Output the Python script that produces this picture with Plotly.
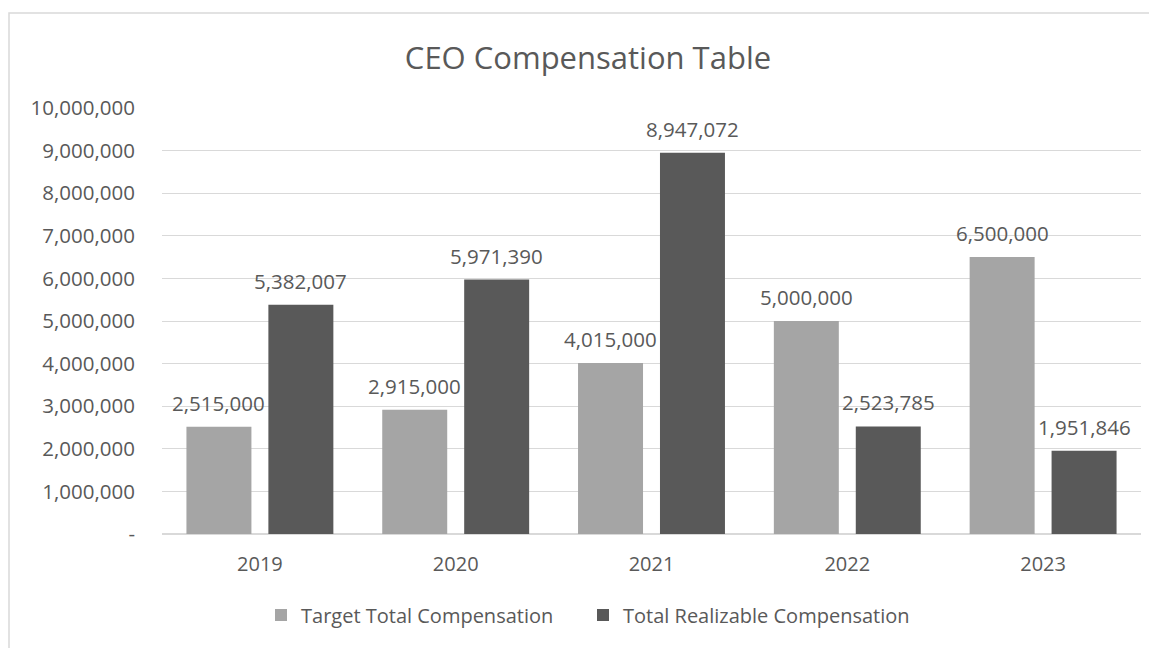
import plotly.graph_objects as go

years = ["2019", "2020", "2021", "2022", "2023"]
target_total = [2515000, 2915000, 4015000, 5000000, 6500000]
total_realizable = [5382007, 5971390, 8947072, 2523785, 1951846]
series_names = ["Target Total Compensation", "Total Realizable Compensation"]
y_tick_vals = [0, 1000000, 2000000, 3000000, 4000000, 5000000,
               6000000, 7000000, 8000000, 9000000, 10000000]
y_tick_text = ["-", "1,000,000", "2,000,000", "3,000,000", "4,000,000", "5,000,000",
               "6,000,000", "7,000,000", "8,000,000", "9,000,000", "10,000,000"]

OFF = 8  # page body margin
W, H = 1157 - OFF, 648 - OFF
L, R, T, B = 162 - OFF, 16, 108 - OFF, 114
PW, PH = W - L - R, H - T - B

FONT = "Open Sans"
TXT = "#595959"
LIGHT = "#A5A5A5"
DARK = "#595959"
GRID = "#D9D9D9"

fig = go.Figure()
fig.add_trace(go.Bar(x=years, y=target_total, name=series_names[0],
                     marker=dict(color=LIGHT, line=dict(width=0)), legend="legend"))
fig.add_trace(go.Bar(x=years, y=total_realizable, name=series_names[1],
                     marker=dict(color=DARK, line=dict(width=0)), legend="legend2"))

# data labels: category index on the category axis, offset to each bar's centre
annotations = []
for vals, shift in ((target_total, -41), (total_realizable, 41)):
    for i, v in enumerate(vals):
        annotations.append(dict(x=i, y=v, xref="x", yref="y", text=f"{v:,}",
                                showarrow=False, xshift=shift, yanchor="bottom",
                                yshift=8, font=dict(family=FONT, size=20.5, color=TXT)))

def px_x(p):
    return (p - OFF - L) / PW

def px_y(p):
    return (H - B - (p - OFF)) / PH

legend_common = dict(orientation="h", xanchor="left", yanchor="middle", y=px_y(615),
                     font=dict(family=FONT, size=20, color=TXT), bgcolor="rgba(0,0,0,0)")

fig.update_layout(
    width=W, height=H,
    margin=dict(l=L, r=R, t=T, b=B, autoexpand=False),
    paper_bgcolor="white", plot_bgcolor="white",
    font=dict(family=FONT, color=TXT),
    title=dict(text="CEO Compensation Table", x=(588 - OFF) / W, xanchor="center",
               xref="container", y=1 - (58 - OFF) / H, yref="container", yanchor="middle",
               font=dict(family=FONT, size=31, color=TXT)),
    barmode="group", bargap=0.163, bargroupgap=0.207,
    showlegend=True,
    legend=dict(x=px_x(261), **legend_common),
    legend2=dict(x=px_x(583), **legend_common),
    annotations=annotations,
    shapes=[dict(type="rect", xref="paper", yref="paper",
                 x0=px_x(9), x1=px_x(1175), y0=px_y(700), y1=px_y(13),
                 line=dict(color=GRID, width=1.5), layer="below")],
    xaxis=dict(type="category", categoryorder="array", categoryarray=years,
               range=[-0.5, len(years) - 0.5], autorange=False,
               showgrid=False, showline=False, zeroline=False, ticks="",
               tickfont=dict(family=FONT, size=20, color=TXT), ticklabelstandoff=16),
    yaxis=dict(range=[0, 10000000], autorange=False, tickvals=y_tick_vals, ticktext=y_tick_text,
               showgrid=True, gridcolor=GRID, gridwidth=1.3, zeroline=True,
               zerolinecolor=GRID, zerolinewidth=1.5, showline=False, ticks="",
               tickfont=dict(family=FONT, size=20.5, color=TXT), ticklabelstandoff=26),
)

fig.write_html("out.html")
